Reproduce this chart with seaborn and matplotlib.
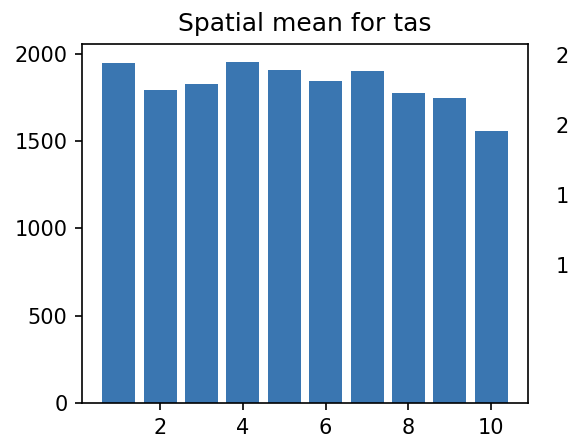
import matplotlib
matplotlib.use("Agg")
import matplotlib.pyplot as plt
import seaborn as sns
import pandas as pd

# time index and spatial mean values
steps = [1, 2, 3, 4, 5, 6, 7, 8, 9, 10]
tas_mean = [1947, 1792, 1826, 1954, 1908, 1845, 1901, 1775, 1746, 1557]

# partly visible neighbour panel on the right (only its tick labels show)
right_ticks = [10, 15, 20, 25]

df = pd.DataFrame({"step": steps, "tas": tas_mean})

fig = plt.figure(figsize=(568 / 150, 436 / 150), dpi=150)
ax = fig.add_axes([82 / 568, 1 - 403 / 436, (528 - 82) / 568, (403 - 44) / 436])

sns.barplot(data=df, x="step", y="tas", native_scale=True, color="#3a76b1",
            saturation=1, width=0.8, ax=ax, errorbar=None)
ax.set_xlim(0.11, 10.89)
ax.set_ylim(0, 2057)
ax.set_xticks([2, 4, 6, 8, 10])
ax.set_xlabel("")
ax.set_ylabel("")
ax.set_title("Spatial mean for tas")

# neighbour axes, mostly off the canvas
ax2 = fig.add_axes([597 / 568, 1 - 403 / 436, 0.5, (403 - 44) / 436])
ax2.set_ylim(0.14, 25.79)
ax2.set_yticks(right_ticks)
ax2.set_xticks([])

fig.savefig("out.png", dpi=150)
